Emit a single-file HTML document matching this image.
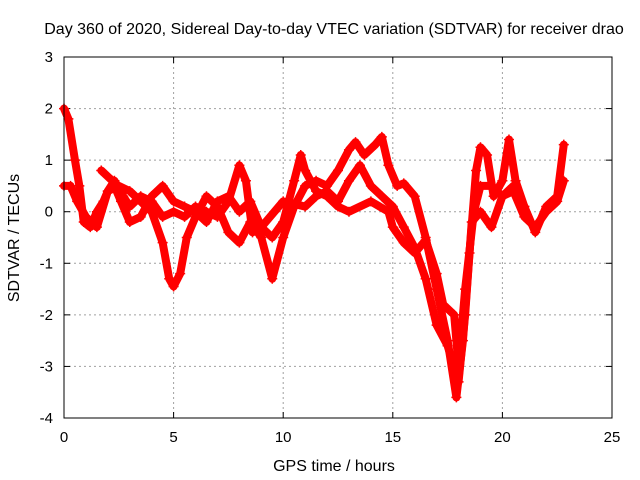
<!DOCTYPE html>
<html><head><meta charset="utf-8"><style>
body{margin:0;background:#fff}
svg{display:block;font-family:"Liberation Sans",sans-serif}
</style></head><body>
<svg id="chart" width="640" height="480">
<text x="334" y="34" font-size="16" text-anchor="middle">Day 360 of 2020, Sidereal Day-to-day VTEC variation (SDTVAR) for receiver drao</text>
<g id="grid"></g>
<g id="ticks"></g>
<g id="series"></g>
<rect x="64" y="57" width="548" height="361" fill="none" stroke="#000" stroke-width="1"/>
<text x="334" y="471" font-size="16" text-anchor="middle">GPS time / hours</text>
<text transform="translate(19,238) rotate(-90)" font-size="16" text-anchor="middle">SDTVAR / TECUs</text>
</svg>
<script>
const xTicks=[0,5,10,15,20,25];
const yTicks=[3,2,1,0,-1,-2,-3,-4];
const trackA=[[0,2.0],[0.2,1.8],[0.5,1.0],[0.7,0.5],[0.9,-0.2],[1.2,-0.3],[1.5,0],[1.8,0.2],[2,0.4],[2.5,0.5],[3,0.4],[3.5,0.2],[4,0],[4.5,-0.6],[4.8,-1.3],[5,-1.45],[5.3,-1.2],[5.6,-0.5],[6,-0.1],[6.5,0.3],[7,0.1],[7.5,-0.4],[8,-0.6],[8.5,-0.2],[9,-0.5],[9.5,-1.3],[10,-0.5],[10.5,0.1],[11,0.5],[11.5,0.6],[12,0.5],[12.5,0.8],[13,1.2],[13.3,1.35],[13.7,1.1],[14.2,1.3],[14.5,1.45],[14.8,0.9],[15.2,0.5],[15.5,0.55],[16,0.3],[16.5,-0.5],[17,-1.5],[17.5,-2.5],[17.9,-3.6],[18.2,-2.5],[18.5,-0.8],[18.8,0.8],[19,1.25],[19.3,1.1],[19.6,0.3],[20,0.6],[20.3,1.4],[20.6,0.6],[21,0.1],[21.5,-0.4],[22,0.1],[22.5,0.3],[22.8,1.3]];
const trackB=[[0,0.5],[0.3,0.5],[0.6,0.2],[1,-0.1],[1.5,-0.3],[2,0.4],[2.3,0.6],[2.7,0.3],[3,0.1],[3.5,0.3],[4,0.2],[4.5,-0.1],[5,0],[5.5,-0.1],[6,0.1],[6.5,0],[7,-0.1],[7.5,0.2],[8,0.9],[8.3,0.6],[8.6,-0.4],[9,-0.3],[9.5,-0.5],[10,-0.2],[10.5,0.6],[10.8,1.1],[11,0.8],[11.5,0.4],[12,0.3],[12.5,0.1],[13,0],[14,0.2],[14.8,0.0],[15,-0.3],[15.5,-0.6],[16,-0.8],[16.5,-0.55],[17,-1.2],[17.3,-1.8],[17.8,-2.0],[18.0,-3.0],[18.3,-1.5],[18.7,0.0],[19,0.5],[19.5,0.5],[20,0.3],[20.5,0.4],[21,-0.1],[21.5,-0.3],[22,0.0],[22.5,0.2],[22.8,0.6]];
const trackC=[[1.7,0.8],[2.2,0.6],[2.6,0.2],[3,-0.2],[3.5,-0.1],[4,0.3],[4.5,0.5],[5,0.2],[5.5,0.1],[6,0.0],[6.5,-0.2],[7,0.2],[7.5,0.3],[8,0.0],[8.5,0.2],[9,-0.3],[10,0.2],[11,0.1],[11.5,0.3],[12,0.4],[12.5,0.2],[13,0.6],[13.5,0.9],[14,0.5],[14.5,0.3],[15,0.1],[15.5,-0.3],[16,-0.7],[16.5,-1.3],[17,-2.2],[17.5,-2.6],[18,-3.3],[18.3,-2.0],[18.6,-0.2],[19,0.0],[19.5,-0.3],[20,0.3],[20.5,0.5],[21,0.1]];
const NS="http://www.w3.org/2000/svg";
function X(h){return 64+h*548/25;}
function Y(v){return 57+(3-v)*361/7;}
function mk(tag,attrs,parent){const e=document.createElementNS(NS,tag);for(const k in attrs)e.setAttribute(k,attrs[k]);parent.appendChild(e);return e;}
const grid=document.getElementById('grid'),ticks=document.getElementById('ticks'),series=document.getElementById('series');
xTicks.forEach(t=>{
  const x=X(t);
  if(t>0&&t<25){const g=mk('line',{x1:x,x2:x,y1:57,y2:418,stroke:'#a0a0a0','stroke-dasharray':'2,3'},grid);
  
  }
  mk('line',{x1:x,x2:x,y1:418,y2:412,stroke:'#000'},ticks);
  mk('line',{x1:x,x2:x,y1:57,y2:63,stroke:'#000'},ticks);
  const l=mk('text',{x:x,y:442,'font-size':15,'text-anchor':'middle'},ticks);l.textContent=t;
  
  
});
yTicks.forEach(t=>{
  const y=Y(t);
  if(t<3&&t>-4){const g=mk('line',{x1:64,x2:612,y1:y,y2:y,stroke:'#a0a0a0','stroke-dasharray':'2,3'},grid);
  
  }
  mk('line',{x1:64,x2:70,y1:y,y2:y,stroke:'#000'},ticks);
  mk('line',{x1:612,x2:606,y1:y,y2:y,stroke:'#000'},ticks);
  const l=mk('text',{x:53,y:y+5,'font-size':15,'text-anchor':'end'},ticks);l.textContent=t;
  
  
});
[trackA,trackB,trackC].forEach((tr,i)=>{
  const pl=mk('polyline',{points:tr.map(p=>X(p[0])+','+Y(p[1])).join(' '),fill:'none',stroke:'#ff0000','stroke-width':8,'stroke-linejoin':'round','stroke-linecap':'round'},series);
  
  
  tr.forEach(p=>{
    const x=X(p[0]),y=Y(p[1]);
    const m=mk('path',{d:`M${x-5},${y}h10M${x},${y-5}v10`,stroke:'#ff0000','stroke-width':1.5},series);
    
    
  });
});
</script>
</body></html>
